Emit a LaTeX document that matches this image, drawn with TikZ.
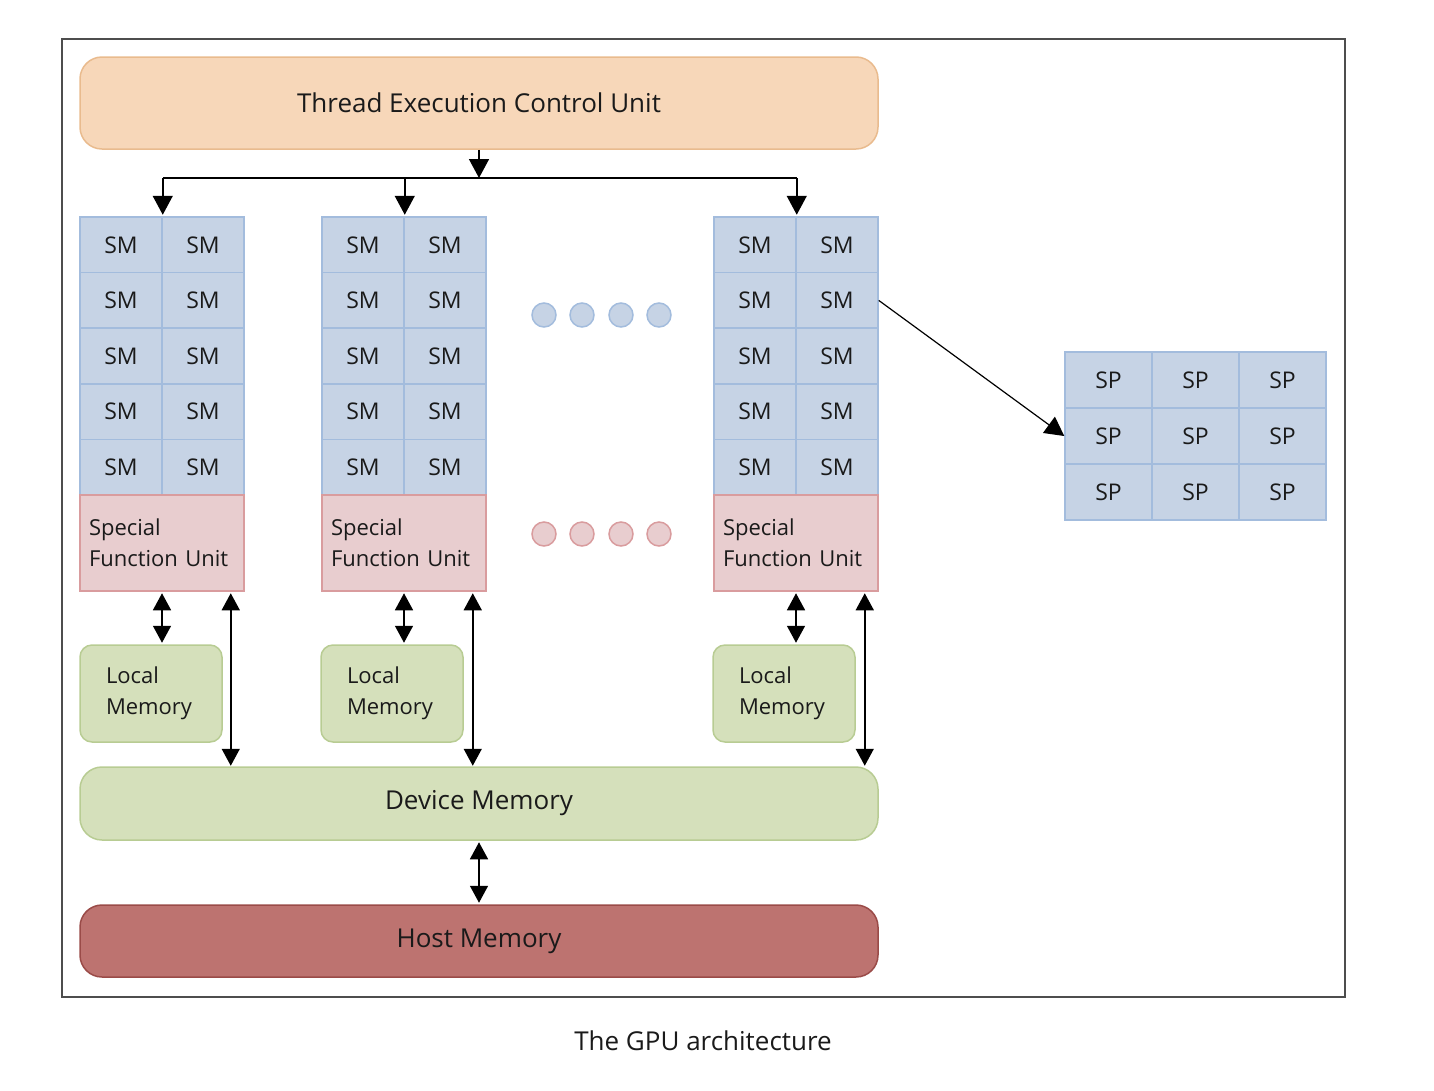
\documentclass[tikz,border=0pt]{standalone}
\usepackage{fontspec}
\setmainfont{Open Sans}
\usetikzlibrary{arrows.meta,calc}
\definecolor{peachF}{HTML}{F7D7B9}
\definecolor{peachD}{HTML}{E9BB8E}
\definecolor{smF}{HTML}{C6D3E5}
\definecolor{smD}{HTML}{A3BCDD}
\definecolor{sfuF}{HTML}{E8CDCF}
\definecolor{sfuD}{HTML}{D99C9E}
\definecolor{grnF}{HTML}{D5E0BB}
\definecolor{grnD}{HTML}{B8CC93}
\definecolor{hostF}{HTML}{BD7370}
\definecolor{hostD}{HTML}{9A4B48}
\definecolor{frameC}{HTML}{4D4D4D}
\definecolor{txt}{HTML}{1A1A1A}
\begin{document}
\begin{tikzpicture}[x=1pt,y=-1pt,
  every node/.style={text=txt},
  bigfont/.style={font=\fontsize{26}{30}\selectfont},
  smfont/.style={font=\fontsize{23}{31}\selectfont},
  lblfont/.style={font=\fontsize{22}{31}\selectfont},
  smcell/.style={draw=smD,fill=smF,line width=1.5pt,minimum width=82pt,minimum height=55.6pt,inner sep=0pt,smfont},
  spcell/.style={draw=smD,fill=smF,line width=1.5pt,minimum width=87pt,minimum height=56pt,inner sep=0pt,smfont},
  sfubox/.style={draw=sfuD,fill=sfuF,line width=1.5pt,minimum width=164pt,minimum height=96pt,inner sep=0pt,text width=146pt,align=left,lblfont},
  lmbox/.style={draw=grnD,fill=grnF,line width=1.5pt,rounded corners=12pt,minimum width=142pt,minimum height=97pt,inner sep=0pt,text width=90pt,align=left,lblfont},
  widebox/.style={line width=1.5pt,rounded corners=22pt,minimum width=798pt,inner sep=0pt,bigfont},
  bluedot/.style={circle,draw=smD,fill=smF,line width=1.5pt,minimum size=24pt,inner sep=0pt},
  reddot/.style={circle,draw=sfuD,fill=sfuF,line width=1.5pt,minimum size=24pt,inner sep=0pt},
  conn/.style={line width=1.5pt,draw=black},
  tip/.style={-{Triangle[width=20pt,length=19pt]}},
  dtip/.style={{Triangle[width=18pt,length=17pt]}-{Triangle[width=18pt,length=17pt]}}
]
\useasboundingbox (0,0) rectangle (1434,1090);
\node[draw=frameC,line width=2pt,minimum width=1283pt,minimum height=958pt,inner sep=0pt] (frame) at (703.5,518) {};

\node[widebox,draw=peachD,fill=peachF,minimum height=92pt] (tecu) at (479,103) {Thread Execution Control Unit};

\foreach \col/\x in {A/80,B/322,C/714}{
  \foreach \r in {1,...,5}{
    \foreach \c in {1,2}{
      \node[smcell] (sm\col-\r-\c) at ({\x+41+82*(\c-1)},{217+27.8+55.6*(\r-1)}) {SM};
    }
  }
  \node[sfubox] (sfu\col) at ({\x+82},543) {Special\\\mbox{Function Unit}};
}
\node[lmbox] (lmA) at (151,693.5) {Local\\Memory};
\node[lmbox] (lmB) at (392,693.5) {Local\\Memory};
\node[lmbox] (lmC) at (784,693.5) {Local\\Memory};

\foreach \i/\x in {1/544,2/582,3/621,4/659}{
  \node[bluedot] (bd\i) at (\x,315) {};
  \node[reddot] (rd\i) at (\x,534) {};
}

\node[widebox,draw=grnD,fill=grnF,minimum height=73pt] (dev) at (479,803.5) {Device Memory};
\node[widebox,draw=hostD,fill=hostF,minimum height=72pt] (host) at (479,941) {Host Memory};

\foreach \r in {1,2,3}{
  \foreach \c in {1,2,3}{
    \node[spcell] (sp-\r-\c) at ({1065+43.5+87*(\c-1)},{352+28+56*(\r-1)}) {SP};
  }
}

\node[bigfont] (cap) at (703,1041) {The GPU architecture};

% top distribution
\coordinate (bus) at (479,178);
\draw[conn,tip] (tecu.south) -- (bus);
\draw[conn] (smA-1-1.north east |- bus) -- (smC-1-1.north east |- bus);
\foreach \col in {A,B,C}{
  \draw[conn,tip] (sm\col-1-1.north east |- bus) -- ($(sm\col-1-1.north east)+(0,-1.5)$);
  \draw[conn,dtip,shorten <=1.5pt,shorten >=1.5pt] (sfu\col.south) -- (sfu\col.south |- lm\col.north);
  \draw[conn,dtip,shorten <=1.5pt,shorten >=0.5pt] ($(sfu\col.south east)+(-14,0)$) -- ($(sfu\col.south east |- dev.north)+(-14,0)$);
}
\draw[conn,dtip,shorten <=1.5pt,shorten >=1.5pt] (dev.south) -- (host.north);
\draw[line width=1.2pt,tip] (smC-2-2.east) -- (sp-2-1.west);
\end{tikzpicture}
\end{document}
